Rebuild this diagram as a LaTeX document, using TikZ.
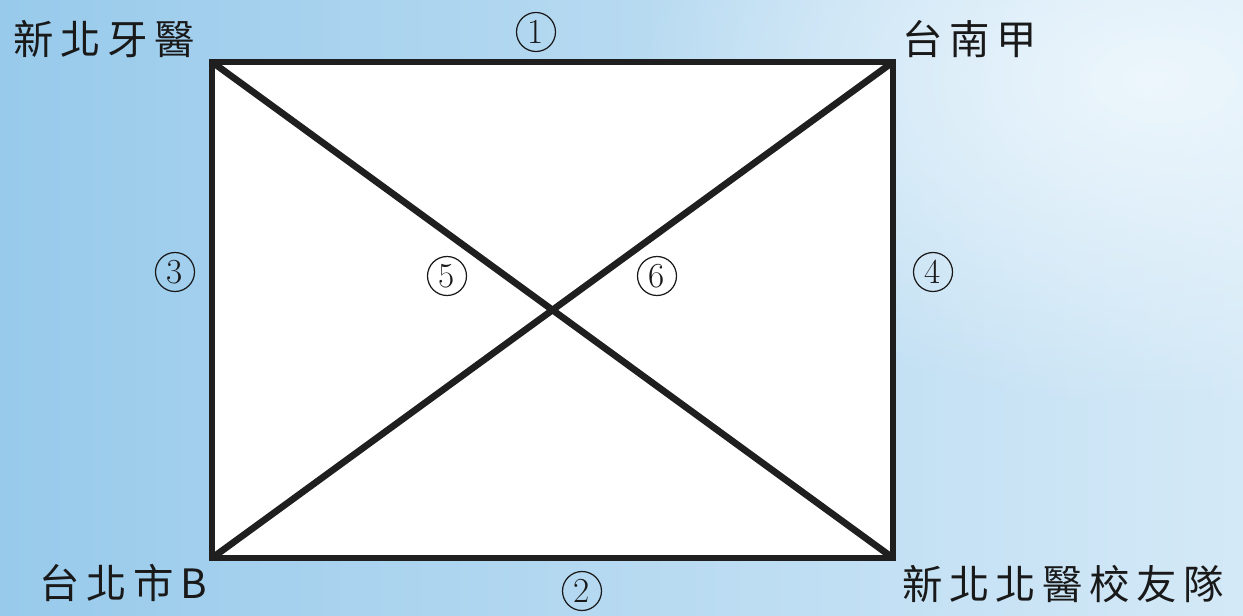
\documentclass[tikz,border=0pt]{standalone}
\usepackage{fontspec}
\usetikzlibrary{fadings}
\newfontfamily\cjk[LetterSpace=16]{Noto Sans CJK TC}
\tikzfading[name=softglow, inner color=transparent!0, outer color=transparent!100]
\begin{document}
\begin{tikzpicture}[x=0.02cm,y=-0.02cm,
  lbl/.style={font=\cjk\fontsize{23}{23}\selectfont, inner sep=0pt, text=black!90},
  num/.style={circle, draw=black!90, line width=0.7pt, minimum size=0.78cm, inner sep=0pt,
              font=\fontsize{20}{20}\selectfont, text=black!90},
  edge/.style={line width=3.8pt, draw=black!88}]
\definecolor{bgL}{RGB}{152,202,235}
\definecolor{bgR}{RGB}{212,233,247}
\definecolor{bgHi}{RGB}{240,248,253}
\useasboundingbox (0,0) rectangle (1243,615);
\shade[left color=bgL, right color=bgR] (0,0) rectangle (1243,615);
\fill[bgHi, opacity=0.9, path fading=softglow] (1150,80) ellipse (520 and 330);
% corners
\coordinate (tl) at (212,62);
\coordinate (tr) at (893,62);
\coordinate (bl) at (212,558);
\coordinate (br) at (893,558);
\fill[white] (tl) rectangle (br);
\draw[edge] (tl) -- (br);
\draw[edge] (bl) -- (tr);
\draw[edge, line join=miter] (tl) -- (tr) -- (br) -- (bl) -- cycle;
% labels
\node[lbl] (a) at (104,39) {新北牙醫};
\node[lbl] (b) at (970,39) {台南甲};
\node[lbl] (c) at (123,583) {台北市B};
\node[lbl] (d) at (1063,584) {新北北醫校友隊};
\node[num] (n1) at (536,32) {1};
\node[num] (n2) at (582,591) {2};
\node[num] (n3) at (175,272) {3};
\node[num] (n4) at (933,272) {4};
\node[num] (n5) at (447,276) {5};
\node[num] (n6) at (657,276) {6};
\end{tikzpicture}
\end{document}
